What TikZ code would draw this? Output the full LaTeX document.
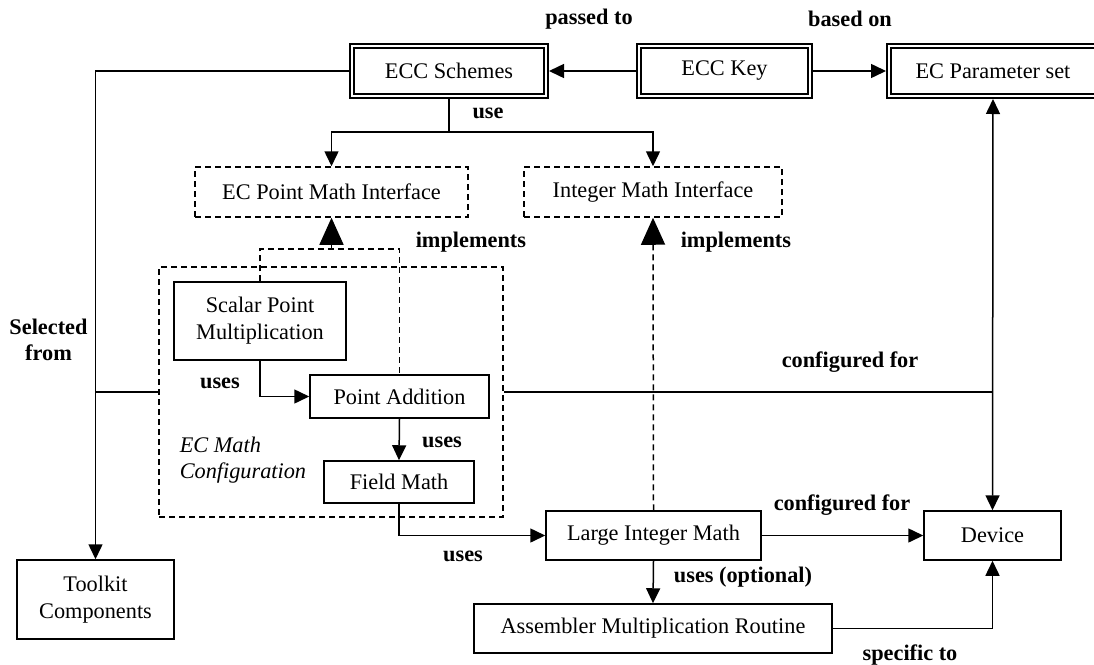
\documentclass[tikz,border=0pt]{standalone}
\usepackage{fontspec}
\setmainfont{Liberation Serif}
\usetikzlibrary{arrows.meta,positioning,calc}

\begin{document}
\begin{tikzpicture}[x=1pt,y=-1pt,line width=1.5pt,>={Triangle[length=15pt,width=14pt]}]

\tikzset{txt/.style={font=\fontsize{22.3}{27}\selectfont},
box/.style={txt,draw,align=center,inner sep=0pt},
keybox/.style={box,double,line width=1.9pt,double distance=2.4pt,outer sep=3.1pt,minimum height=49.8pt},
dashline/.style={dash pattern=on 6pt off 4pt},
ifbox/.style={box,dashline,minimum height=50pt},
lbl/.style={font=\fontsize{22.3}{27}\selectfont\bfseries,inner sep=0pt},
impl/.style={dashline,-{Triangle[length=27pt,width=24pt]}}}

\useasboundingbox (0,0) rectangle (1094,664);

% Nodes
\node[keybox,minimum width=193.8pt] (schemes) at (449,71) {ECC Schemes};
\node[keybox,minimum width=170.8pt] (key) at (724.5,71) {ECC Key};
\node[keybox,minimum width=207.8pt] (params) at (993,71) {EC Parameter set};
\node[ifbox,minimum width=273pt] (pointif) at (331.5,192) {EC Point Math Interface};
\node[ifbox,minimum width=258pt] (intif) at (653,192) {Integer Math Interface};
\node[draw,dashline,minimum width=344pt,minimum height=250pt] (config) at (331,392) {};
\node[txt,font=\fontsize{22.3}{26}\selectfont\itshape,align=left,anchor=west,inner sep=0pt] (configlabel) at (179,460) {EC Math\\Configuration};
\node[box,minimum width=172pt,minimum height=78pt] (scalar) at (260,321) {Scalar Point\\Multiplication};
\node[box,minimum width=179pt,minimum height=43pt] (pointadd) at (399.5,396.5) {Point Addition};
\node[box,minimum width=150pt,minimum height=42pt] (field) at (399,482) {Field Math};
\node[box,minimum width=157pt,minimum height=79pt] (toolkit) at (95.5,599.5) {Toolkit\\Components};
\node[box,minimum width=215pt,minimum height=49pt] (largeint) at (653.5,535.5) {Large Integer Math};
\node[box,minimum width=137pt,minimum height=49pt] (device) at (992.5,535.5) {Device};
\node[box,minimum width=358pt,minimum height=49pt] (asm) at (653,628.5) {Assembler Multiplication Routine};

\coordinate (usesplit) at (449,132);
\coordinate (implsplit) at (331.5,249);

% Connectors
\draw[->] (key.west) -- (schemes.east);
\draw[->] (key.east) -- (params.west);
\draw[->] (schemes.west) -| (toolkit.north);
\draw (config.west) -- (config.west -| toolkit.north);
\draw (config.east) -- (config.east -| device.north);
\draw[<->] (params.south) -- (device.north);
\draw (schemes.south) -- (usesplit);
\draw[->] (usesplit) -| (pointif.north);
\draw[->] (usesplit) -| (intif.north);
\draw[dashline] (scalar.north) |- (implsplit) -| (pointadd.north);
\draw[impl] (implsplit) -- (pointif.south);
\draw[->] (scalar.south) |- (pointadd.west);
\draw[->] (pointadd.south) -- (field.north);
\draw[->] (field.south) |- (largeint.west);
\draw[impl] (largeint.north) -- (intif.south);
\draw[->] (largeint.east) -- (device.west);
\draw[->] (largeint.south) -- (asm.north);
\draw[->] (asm.east) -| (device.south);

% Labels
\node[lbl] (passedlbl) at (589,19) {passed to};
\node[lbl] (basedlbl) at (850,19) {based on};
\node[lbl] (uselbl) at (488,113) {use};
\node[lbl,anchor=west] (impllbl1) at (415,242) {implements};
\node[lbl,anchor=west] (impllbl2) at (680,242) {implements};
\node[lbl,align=center,font=\fontsize{22.3}{26}\selectfont\bfseries] (selectlbl) at (48.5,340) {Selected\\from};
\node[lbl] (useslbl1) at (220,383) {uses};
\node[lbl] (useslbl2) at (442,442) {uses};
\node[lbl] (useslbl3) at (463,556) {uses};
\node[lbl] (conflbl1) at (850,362) {configured for};
\node[lbl] (conflbl2) at (842,505) {configured for};
\node[lbl] (optlbl) at (743,577) {uses (optional)};
\node[lbl] (speclbl) at (910,655) {specific to};

\end{tikzpicture}
\end{document}
